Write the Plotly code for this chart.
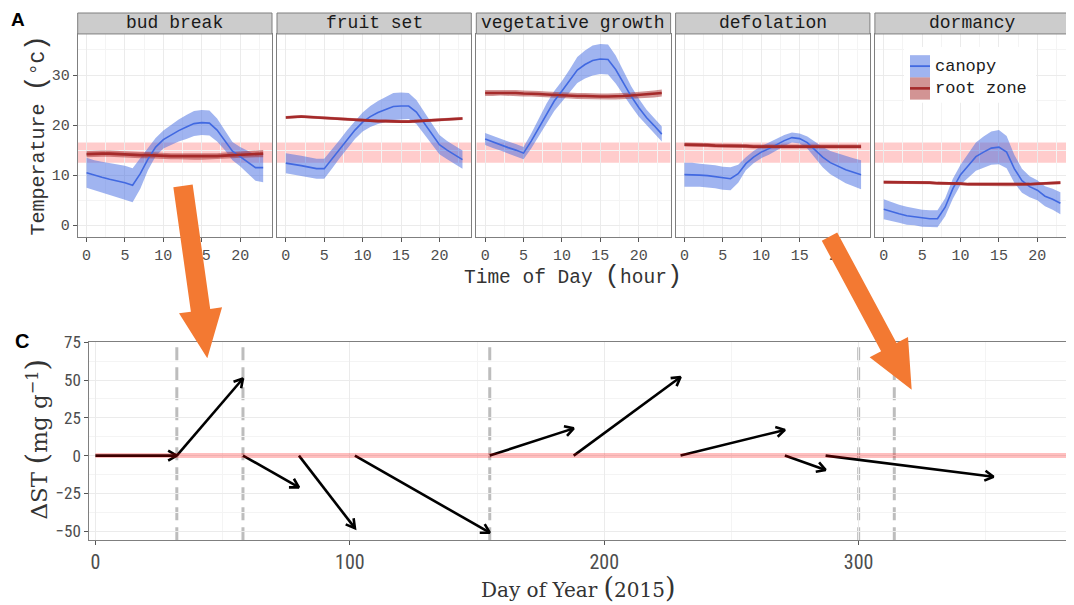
import math
import plotly.graph_objects as go

W, H = 1074, 605

# ---------------- data: panel A (diurnal temperature) ----------------
HOURS = list(range(24))
PHASES = ["bud break", "fruit set", "vegetative growth", "defolation", "dormancy"]

canopy_mean = {
    "bud break": [10.5, 10.0, 9.6, 9.2, 8.9, 8.5, 8.0, 10.3, 13.2, 15.6, 17.1, 18.0, 18.9, 19.6, 20.3, 20.5, 20.4, 19.0, 17.0, 14.8, 13.7, 12.6, 11.5, 11.5],
    "fruit set": [12.4, 12.2, 11.9, 11.6, 11.3, 11.3, 13.2, 15.2, 17.2, 19.0, 20.6, 21.7, 22.5, 23.1, 23.7, 23.8, 23.8, 22.6, 20.5, 18.2, 16.1, 15.0, 14.0, 13.1],
    "vegetative growth": [17.2, 16.6, 16.1, 15.5, 15.0, 14.4, 16.8, 19.5, 22.3, 24.8, 26.8, 28.8, 31.0, 32.1, 32.9, 33.2, 33.1, 31.1, 28.5, 25.8, 23.5, 21.5, 19.9, 18.2],
    "defolation": [10.1, 10.1, 10.0, 9.9, 9.7, 9.4, 9.3, 10.3, 12.3, 13.6, 14.6, 15.3, 16.1, 16.9, 17.5, 17.3, 16.5, 15.0, 13.6, 12.5, 11.8, 11.1, 10.6, 10.1],
    "dormancy": [3.2, 2.7, 2.3, 1.9, 1.7, 1.4, 1.3, 1.3, 3.6, 7.3, 10.1, 11.9, 13.7, 14.6, 15.4, 15.6, 14.6, 11.3, 8.9, 7.7, 7.0, 5.8, 5.2, 4.4],
}
canopy_sd = {
    "bud break": [3.0, 3.0, 3.1, 3.2, 3.3, 3.4, 3.4, 3.0, 2.2, 1.8, 1.8, 2.0, 2.2, 2.4, 2.5, 2.5, 2.5, 2.3, 2.0, 1.8, 1.9, 2.2, 2.6, 2.9],
    "fruit set": [2.0, 2.0, 2.0, 2.0, 2.0, 2.0, 1.9, 1.8, 1.8, 1.8, 1.9, 2.1, 2.3, 2.5, 2.7, 2.7, 2.6, 2.4, 2.2, 2.0, 1.9, 1.8, 1.8, 1.8],
    "vegetative growth": [1.2, 1.2, 1.2, 1.2, 1.2, 1.2, 1.5, 1.8, 2.0, 2.0, 2.0, 2.3, 2.6, 2.8, 3.0, 3.0, 3.0, 2.8, 2.4, 2.0, 1.8, 1.6, 1.5, 1.5],
    "defolation": [2.4, 2.4, 2.3, 2.3, 2.3, 2.3, 2.3, 1.8, 1.3, 1.2, 1.2, 1.2, 1.2, 1.1, 1.0, 1.0, 1.2, 1.6, 2.0, 2.3, 2.5, 2.7, 2.8, 2.9],
    "dormancy": [2.0, 1.9, 1.8, 1.8, 1.7, 1.7, 1.7, 1.7, 1.8, 2.0, 2.0, 2.4, 2.8, 3.1, 3.3, 3.4, 3.2, 2.8, 2.4, 2.1, 2.0, 2.0, 2.1, 2.2],
}
root_mean = {
    "bud break": [14.2, 14.3, 14.3, 14.3, 14.2, 14.2, 14.1, 14.0, 14.0, 13.9, 13.9, 13.8, 13.8, 13.8, 13.7, 13.7, 13.8, 13.8, 13.9, 14.0, 14.1, 14.2, 14.3, 14.3],
    "fruit set": [21.5, 21.6, 21.7, 21.6, 21.5, 21.5, 21.4, 21.3, 21.2, 21.1, 21.0, 20.9, 20.8, 20.8, 20.7, 20.7, 20.7, 20.8, 20.8, 20.9, 21.0, 21.1, 21.2, 21.3],
    "vegetative growth": [26.4, 26.4, 26.5, 26.4, 26.4, 26.3, 26.3, 26.2, 26.1, 26.0, 26.0, 25.9, 25.8, 25.8, 25.7, 25.7, 25.7, 25.7, 25.8, 25.9, 26.0, 26.1, 26.2, 26.4],
    "defolation": [16.1, 16.1, 16.0, 16.0, 15.9, 15.9, 15.9, 15.8, 15.8, 15.7, 15.7, 15.7, 15.6, 15.6, 15.6, 15.6, 15.6, 15.6, 15.6, 15.6, 15.7, 15.7, 15.7, 15.7],
    "dormancy": [8.6, 8.6, 8.6, 8.5, 8.5, 8.5, 8.5, 8.4, 8.4, 8.3, 8.3, 8.2, 8.2, 8.2, 8.1, 8.1, 8.1, 8.1, 8.2, 8.2, 8.3, 8.4, 8.5, 8.5],
}
root_sd = {
    "bud break": [0.6, 0.6, 0.6, 0.6, 0.6, 0.6, 0.6, 0.6, 0.6, 0.6, 0.6, 0.6, 0.6, 0.6, 0.6, 0.6, 0.6, 0.6, 0.6, 0.6, 0.6, 0.7, 0.7, 0.7],
    "fruit set": [0.3, 0.3, 0.3, 0.3, 0.3, 0.3, 0.3, 0.3, 0.3, 0.3, 0.3, 0.3, 0.3, 0.3, 0.3, 0.3, 0.3, 0.3, 0.3, 0.3, 0.3, 0.3, 0.3, 0.3],
    "vegetative growth": [0.6, 0.6, 0.6, 0.6, 0.6, 0.6, 0.6, 0.6, 0.6, 0.6, 0.6, 0.6, 0.6, 0.6, 0.6, 0.6, 0.6, 0.6, 0.6, 0.6, 0.6, 0.7, 0.7, 0.7],
    "defolation": [0.4, 0.4, 0.4, 0.4, 0.4, 0.4, 0.4, 0.4, 0.4, 0.4, 0.4, 0.4, 0.4, 0.4, 0.4, 0.4, 0.4, 0.4, 0.4, 0.4, 0.4, 0.4, 0.4, 0.4],
    "dormancy": [0.3, 0.3, 0.3, 0.3, 0.3, 0.3, 0.3, 0.3, 0.3, 0.3, 0.3, 0.3, 0.3, 0.3, 0.3, 0.3, 0.3, 0.3, 0.3, 0.3, 0.3, 0.3, 0.3, 0.3],
}
OPT_BAND = [12.5, 16.5]
TOP_XTICKS = [0, 5, 10, 15, 20]
TOP_YTICKS = [0, 10, 20, 30]

# ---------------- data: panel C (delta ST) ----------------
PHASE_DAYS = [32, 58, 155, 300, 314]
ARROW_X0 = [0, 32, 58, 80, 102, 155, 188, 230, 271, 287]
ARROW_Y0 = [0, 0, 0, 0, 0, 0, 0, 0, 0, 0]
ARROW_X1 = [32, 58, 80, 102, 155, 188, 230, 271, 287, 353]
ARROW_Y1 = [0, 51, -21, -48, -51, 18, 52, 17, -9.5, -14]
BOT_XTICKS = [0, 100, 200, 300]
BOT_YTICKS = [-50, -25, 0, 25, 50, 75]

# ---------------- styling / layout ----------------
CAN_LINE = "#4169e1"
CAN_FILL = "rgba(65,105,225,0.5)"
ROOT_LINE = "#a52a2a"
ROOT_FILL = "rgba(165,42,42,0.5)"
BAND_FILL = "rgba(255,0,0,0.2)"
ORANGE = "#f37932"
MONO = "Liberation Mono, Courier New, monospace"
SERIF = "DejaVu Serif, Liberation Serif, serif"
NARROW = "Liberation Sans Narrow, Arial Narrow, Roboto Condensed, Roboto, sans-serif"
TICKC = "#4d4d4d"

# mapping from target screen pixels to paper coordinates (calibrated to the page)
OFF_X = 8
Y_TOP, Y_SPAN = 16, 597

TOP_Y = (33, 237)
PANEL_X = [(77.7, 272.0), (277.0, 471.3), (476.3, 670.6), (675.6, 869.9), (874.9, 1069.2)]
BOT_X = (89.3, 1068.3)
BOT_Y = (341.7, 541.0)
TOP_XR = [-1.15, 24.15]
TOP_YR = [-2.4, 38.2]
BOT_XR = [-2.4, 382.4]
BOT_YR = [-56, 75.4]


def fx(p):
    return (p - OFF_X) / W


def fy(p):
    return 1 - (p - Y_TOP) / Y_SPAN


fig = go.Figure()
shapes = []
annotations = []

axis_common = dict(
    showline=True, mirror=True, linecolor="#7f7f7f", linewidth=1,
    showgrid=True, gridcolor="#ebebeb", gridwidth=1, zeroline=False,
    ticks="outside", ticklen=4, tickcolor="#555555", tickwidth=1,
)

for i, ph in enumerate(PHASES):
    n = "" if i == 0 else str(i + 1)
    xa, ya = "x" + n, "y" + n
    lo = [m - s for m, s in zip(canopy_mean[ph], canopy_sd[ph])]
    hi = [m + s for m, s in zip(canopy_mean[ph], canopy_sd[ph])]
    rlo = [m - s for m, s in zip(root_mean[ph], root_sd[ph])]
    rhi = [m + s for m, s in zip(root_mean[ph], root_sd[ph])]
    fig.add_trace(go.Scatter(x=HOURS + HOURS[::-1], y=hi + lo[::-1], fill="toself",
                             fillcolor=CAN_FILL, line=dict(width=0), mode="lines",
                             hoverinfo="skip", showlegend=False, xaxis=xa, yaxis=ya))
    fig.add_trace(go.Scatter(x=HOURS + HOURS[::-1], y=rhi + rlo[::-1], fill="toself",
                             fillcolor=ROOT_FILL, line=dict(width=0), mode="lines",
                             hoverinfo="skip", showlegend=False, xaxis=xa, yaxis=ya))
    fig.add_trace(go.Scatter(x=HOURS, y=canopy_mean[ph], mode="lines", name="canopy",
                             line=dict(color=CAN_LINE, width=1.6), showlegend=False,
                             xaxis=xa, yaxis=ya))
    fig.add_trace(go.Scatter(x=HOURS, y=root_mean[ph], mode="lines", name="root zone",
                             line=dict(color=ROOT_LINE, width=2.6), showlegend=False,
                             xaxis=xa, yaxis=ya))
    x0, x1 = PANEL_X[i]
    fig.update_layout(**{
        "xaxis" + n: dict(axis_common, domain=[fx(x0), fx(x1)], range=TOP_XR, anchor=ya,
                          tickvals=TOP_XTICKS, tickfont=dict(family=MONO, size=15, color=TICKC),
                          minor=dict(dtick=2.5, tick0=0, showgrid=True, gridcolor="#f4f4f4", gridwidth=0.6)),
        "yaxis" + n: dict(axis_common, domain=[fy(TOP_Y[1]), fy(TOP_Y[0])], range=TOP_YR, anchor=xa,
                          tickvals=TOP_YTICKS, showticklabels=(i == 0), ticks="outside" if i == 0 else "",
                          tickfont=dict(family=MONO, size=15, color=TICKC),
                          minor=dict(dtick=5, tick0=0, showgrid=True, gridcolor="#f4f4f4", gridwidth=0.6)),
    })
    # optimal band
    shapes.append(dict(type="rect", xref=xa, yref=ya, x0=TOP_XR[0], x1=TOP_XR[1],
                       y0=OPT_BAND[0], y1=OPT_BAND[1], fillcolor=BAND_FILL,
                       line=dict(width=0), layer="below"))
    # strip
    shapes.append(dict(type="rect", xref="paper", yref="paper", x0=fx(x0), x1=fx(x1),
                       y0=fy(TOP_Y[0]), y1=fy(12), fillcolor="#cccccc",
                       line=dict(color="#7f7f7f", width=1), layer="above"))
    annotations.append(dict(x=fx((x0 + x1) / 2), y=fy(22.5), xref="paper", yref="paper",
                            text=ph, showarrow=False, xanchor="center", yanchor="middle",
                            font=dict(family=MONO, size=18, color="#1a1a1a")))

# ---------------- bottom panel ----------------
fig.update_layout(
    xaxis6=dict(axis_common, domain=[fx(BOT_X[0]), fx(BOT_X[1])], range=BOT_XR, anchor="y6",
                tickvals=BOT_XTICKS, tickfont=dict(family=NARROW, size=20, color=TICKC),
                minor=dict(dtick=50, tick0=0, showgrid=True, gridcolor="#f4f4f4", gridwidth=0.6)),
    yaxis6=dict(axis_common, domain=[fy(BOT_Y[1]), fy(BOT_Y[0])], range=BOT_YR, anchor="x6",
                tickvals=BOT_YTICKS, tickfont=dict(family=NARROW, size=17, color=TICKC),
                minor=dict(dtick=12.5, tick0=0, showgrid=True, gridcolor="#f4f4f4", gridwidth=0.6)),
)

for d in PHASE_DAYS:
    shapes.append(dict(type="line", xref="x6", yref="y6", x0=d, x1=d, y0=BOT_YR[0], y1=BOT_YR[1],
                       line=dict(color="#bdbdbd", width=3, dash="13px,7px"), layer="below"))

sx = (BOT_X[1] - BOT_X[0]) / (BOT_XR[1] - BOT_XR[0])
sy = (BOT_Y[1] - BOT_Y[0]) / (BOT_YR[1] - BOT_YR[0])
shaft_x, shaft_y, head_x, head_y = [], [], [], []
HEAD_LEN, HEAD_ANG = 10.0, math.radians(30)
for x0, y0, x1, y1 in zip(ARROW_X0, ARROW_Y0, ARROW_X1, ARROW_Y1):
    shaft_x += [x0, x1, None]
    shaft_y += [y0, y1, None]
    dxp, dyp = (x1 - x0) * sx, (y1 - y0) * sy
    L = math.hypot(dxp, dyp)
    ux, uy = -dxp / L, -dyp / L
    pts = []
    for a in (HEAD_ANG, -HEAD_ANG):
        rx = ux * math.cos(a) - uy * math.sin(a)
        ry = ux * math.sin(a) + uy * math.cos(a)
        pts.append((x1 + rx * HEAD_LEN / sx, y1 + ry * HEAD_LEN / sy))
    head_x += [pts[0][0], x1, pts[1][0], None]
    head_y += [pts[0][1], y1, pts[1][1], None]

fig.add_trace(go.Scatter(x=shaft_x, y=shaft_y, mode="lines", line=dict(color="black", width=2.6),
                         showlegend=False, hoverinfo="skip", xaxis="x6", yaxis="y6"))
fig.add_trace(go.Scatter(x=head_x, y=head_y, mode="lines", line=dict(color="black", width=2.6),
                         showlegend=False, hoverinfo="skip", xaxis="x6", yaxis="y6"))

shapes.append(dict(type="line", xref="x6", yref="y6", x0=0, x1=BOT_XR[1], y0=0, y1=0,
                   line=dict(color="rgba(255,0,0,0.25)", width=5), layer="above"))

# ---------------- legend (manual, ggplot style) ----------------
shapes.append(dict(type="rect", xref="paper", yref="paper", x0=fx(904), x1=fx(1036),
                   y0=fy(102), y1=fy(46), fillcolor="white", line=dict(width=0), layer="above"))
for k, (fill, lc, lw, label) in enumerate([(CAN_FILL, CAN_LINE, 1.8, "canopy"),
                                           (ROOT_FILL, ROOT_LINE, 2.6, "root zone")]):
    top = 54.3 + k * 22.3
    shapes.append(dict(type="rect", xref="paper", yref="paper", x0=fx(910), x1=fx(930),
                       y0=fy(top + 22.3), y1=fy(top), fillcolor=fill, line=dict(width=0), layer="above"))
    shapes.append(dict(type="line", xref="paper", yref="paper", x0=fx(910), x1=fx(930),
                       y0=fy(top + 11), y1=fy(top + 11), line=dict(color=lc, width=lw), layer="above"))
    annotations.append(dict(x=fx(933), y=fy(top + 11.5), xref="paper", yref="paper", text=label,
                            showarrow=False, xanchor="left", yanchor="middle",
                            font=dict(family=MONO, size=17, color="#1a1a1a")))

# ---------------- orange overlay arrows ----------------
def arrow_path(tail, tip, w, hw, hl):
    dx, dy = tip[0] - tail[0], tip[1] - tail[1]
    L = math.hypot(dx, dy)
    ux, uy = dx / L, dy / L
    nx, ny = -uy, ux
    bx, by = tip[0] - ux * hl, tip[1] - uy * hl
    pts = [(tail[0] + nx * w / 2, tail[1] + ny * w / 2), (bx + nx * w / 2, by + ny * w / 2),
           (bx + nx * hw / 2, by + ny * hw / 2), tip, (bx - nx * hw / 2, by - ny * hw / 2),
           (bx - nx * w / 2, by - ny * w / 2), (tail[0] - nx * w / 2, tail[1] - ny * w / 2)]
    return "M " + " L ".join(f"{fx(px):.5f},{fy(py):.5f}" for px, py in pts) + " Z"


for tail, tip, w in [((183, 185.5), (207.3, 358.3), 19.5), ((829.5, 236.3), (911.7, 390.0), 17.5)]:
    shapes.append(dict(type="path", xref="paper", yref="paper", path=arrow_path(tail, tip, w, 43.5, 48.5),
                       fillcolor=ORANGE, line=dict(width=0), layer="above"))

# ---------------- titles / labels ----------------
def lab(x, y, text, font, angle=0):
    return dict(x=fx(x), y=fy(y), xref="paper", yref="paper", text=text, textangle=angle,
                showarrow=False, xanchor="center", yanchor="middle", font=font)


def big(ch, size):
    return f'<span style="font-size:{size}px">{ch}</span>'


annotations += [
    lab(37, 135, "Temperature " + big("(", 27) + "°C" + big(")", 27),
        dict(family=MONO, size=20, color="#333333"), -90),
    lab(573, 276, "Time of Day " + big("(", 26) + "hour" + big(")", 26),
        dict(family=MONO, size=19.5, color="#333333")),
    lab(578, 588, "Day of Year " + big("(", 27) + "2015" + big(")", 27),
        dict(family=SERIF, size=20, color="#333333")),
    lab(37, 440, "ΔST " + big("(", 30) + "mg g<sup>−1</sup>" + big(")", 30),
        dict(family=SERIF, size=23, color="#333333"), -90),
    lab(18, 19, "<b>A</b>", dict(family="Liberation Sans, Arial, sans-serif", size=19, color="black")),
    lab(22, 341, "<b>C</b>", dict(family="Liberation Sans, Arial, sans-serif", size=20, color="black")),
]

fig.update_layout(
    width=W, height=H, margin=dict(l=0, r=0, t=0, b=0),
    paper_bgcolor="white", plot_bgcolor="white",
    shapes=shapes, annotations=annotations, showlegend=False,
)

fig.write_html("out.html")
